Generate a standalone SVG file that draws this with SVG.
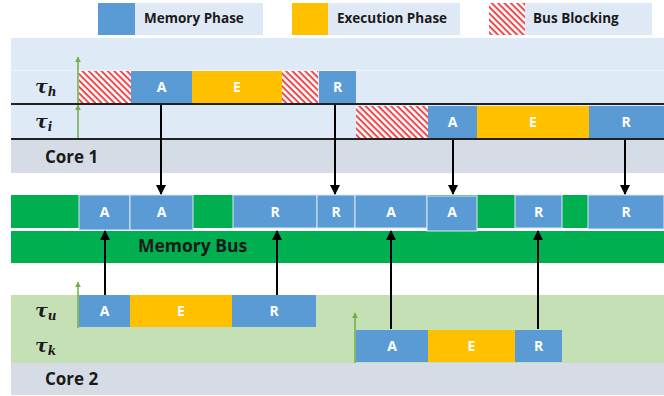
<svg xmlns="http://www.w3.org/2000/svg" width="664" height="396" viewBox="0 0 664 396">
<defs>
<pattern id="hatch" patternUnits="userSpaceOnUse" width="4.5" height="4.5" patternTransform="rotate(45)">
<rect width="4.5" height="4.5" fill="#ffffff"/>
<rect width="4.5" height="2" fill="#f0474a"/>
</pattern>
<marker id="ah" viewBox="0 0 10 10" refX="9" refY="5" markerWidth="5" markerHeight="5" orient="auto">
<path d="M0,0 L10,5 L0,10 z" fill="#000"/>
</marker>
<marker id="gh" viewBox="0 0 10 10" refX="9" refY="5" markerWidth="4" markerHeight="4" orient="auto">
<path d="M0,0 L10,5 L0,10 z" fill="#70ad47"/>
</marker>
</defs>
<style>
.mem{fill:#5b9bd5}
.exe{fill:#ffc000}
.blk{fill:url(#hatch)}
.bus{fill:#5b9bd5;stroke:#dce6f2;stroke-width:1}
.lt{font-family:"Open Sans","Liberation Sans",sans-serif;font-weight:700;fill:#1a1a1a}
.bl{font-family:"Open Sans","Liberation Sans",sans-serif;font-weight:700;font-size:14px;fill:#ffffff;text-anchor:middle}
.tau{font-family:"DejaVu Serif","Liberation Serif",serif;font-weight:bold;font-style:italic;font-size:19px;fill:#1a1a1a}
.sep{stroke:#222;stroke-width:2}
.con{stroke:#000;stroke-width:2;fill:none;marker-end:url(#ah)}
.rel{stroke:#70ad47;stroke-width:1.5;fill:none;marker-end:url(#gh)}
</style>
<rect width="664" height="396" fill="#ffffff"/>

<g id="legend">
<rect x="98" y="3" width="165" height="32" fill="#dfe9f5"/>
<rect x="98" y="3" width="37" height="32" class="mem"/>
<text x="144" y="23" class="lt" font-size="13.5">Memory Phase</text>
<rect x="292" y="3" width="168" height="32" fill="#dfe9f5"/>
<rect x="292" y="3" width="36" height="32" class="exe"/>
<text x="337" y="23" class="lt" font-size="13.5">Execution Phase</text>
<rect x="489" y="3" width="163" height="32" fill="#dfe9f5"/>
<rect x="489" y="3" width="36" height="32" class="blk"/>
<text x="533" y="23" class="lt" font-size="13.5">Bus Blocking</text>
</g>

<g id="core1">
<rect x="11" y="38" width="653" height="101" fill="#deebf7"/>
<line x1="11" y1="70.5" x2="664" y2="70.5" stroke="#edf3fa" stroke-width="1"/>
<rect x="11" y="139" width="653" height="34" fill="#d6dce5"/>
<text x="45" y="163" class="lt" font-size="17">Core 1</text>
</g>

<g id="task-h">
<text x="35" y="93" class="tau">τ<tspan font-size="12" dy="3">h</tspan></text>
<rect x="79" y="71" width="52" height="32" class="blk"/>
<rect x="131" y="71" width="61" height="32" class="mem"/>
<text x="161.5" y="92" class="bl">A</text>
<rect x="192" y="71" width="90" height="32" class="exe"/>
<text x="237" y="92" class="bl">E</text>
<rect x="282" y="71" width="36" height="32" class="blk"/>
<rect x="319" y="71" width="37" height="32" class="mem"/>
<text x="337.5" y="92" class="bl">R</text>
<line x1="78" y1="103" x2="78" y2="57" class="rel"/>
</g>

<g id="task-i">
<text x="35" y="128" class="tau">τ<tspan font-size="12" dy="3">i</tspan></text>
<rect x="356" y="106" width="72" height="32" class="blk"/>
<rect x="428" y="106" width="49" height="32" class="mem"/>
<text x="452.5" y="127" class="bl">A</text>
<rect x="477" y="106" width="112" height="32" class="exe"/>
<text x="533" y="127" class="bl">E</text>
<rect x="589" y="106" width="75" height="32" class="mem"/>
<text x="626" y="127" class="bl">R</text>
<line x1="78" y1="138" x2="78" y2="105" class="rel"/>
</g>

<g id="separators">
<line x1="11" y1="104" x2="664" y2="104" class="sep"/>
<line x1="11" y1="139" x2="664" y2="139" class="sep"/>
<line x1="11" y1="328.5" x2="664" y2="328.5" class="sep"/>
<line x1="11" y1="363" x2="664" y2="363" class="sep"/>
</g>

<g id="memory-bus">
<rect x="11" y="195" width="653" height="33" fill="#00b050"/>
<rect x="11" y="231" width="653" height="32" fill="#00b050"/>
<rect x="79" y="195" width="51" height="35" class="bus"/>
<text x="104.5" y="217" class="bl">A</text>
<rect x="130" y="195" width="63" height="35" class="bus"/>
<text x="161.5" y="217" class="bl">A</text>
<rect x="233" y="195" width="84" height="33" class="bus"/>
<text x="275" y="217" class="bl">R</text>
<rect x="317" y="195" width="38" height="33" class="bus"/>
<text x="336" y="217" class="bl">R</text>
<rect x="355" y="195" width="72" height="33" class="bus"/>
<text x="391" y="217" class="bl">A</text>
<rect x="427" y="196" width="50" height="35" class="bus"/>
<text x="452" y="217" class="bl">A</text>
<rect x="515" y="195" width="47" height="33" class="bus"/>
<text x="538.5" y="217" class="bl">R</text>
<rect x="588" y="195" width="76" height="34" class="bus"/>
<text x="626" y="217" class="bl">R</text>
<text x="138" y="252" class="lt" font-size="17.5">Memory Bus</text>
</g>

<g id="core2">
<rect x="11" y="295" width="653" height="68" fill="#c5e0b4"/>
<rect x="11" y="363" width="653" height="32" fill="#d6dce5"/>
<text x="45" y="385" class="lt" font-size="17">Core 2</text>
</g>

<g id="task-u">
<text x="35" y="317" class="tau">τ<tspan font-size="12" dy="3">u</tspan></text>
<rect x="79" y="295" width="51" height="32" class="mem"/>
<text x="104.5" y="316" class="bl">A</text>
<rect x="130" y="295" width="102" height="32" class="exe"/>
<text x="181" y="316" class="bl">E</text>
<rect x="232" y="295" width="84" height="32" class="mem"/>
<text x="274" y="316" class="bl">R</text>
<line x1="78" y1="328" x2="78" y2="282" class="rel"/>
</g>

<g id="task-k">
<text x="35" y="352" class="tau">τ<tspan font-size="12" dy="3">k</tspan></text>
<rect x="356" y="330" width="72" height="32" class="mem"/>
<text x="392" y="351" class="bl">A</text>
<rect x="428" y="330" width="87" height="32" class="exe"/>
<text x="471.5" y="351" class="bl">E</text>
<rect x="515" y="330" width="47" height="32" class="mem"/>
<text x="538.5" y="351" class="bl">R</text>
<line x1="355" y1="363" x2="355" y2="313" class="rel"/>
</g>

<g id="connectors">
<line x1="161" y1="105" x2="161" y2="194" class="con"/>
<line x1="335" y1="105" x2="335" y2="194" class="con"/>
<line x1="453" y1="140" x2="453" y2="194" class="con"/>
<line x1="625" y1="140" x2="625" y2="194" class="con"/>
<line x1="105" y1="295" x2="105" y2="231" class="con"/>
<line x1="277" y1="295" x2="277" y2="231" class="con"/>
<line x1="391" y1="329" x2="391" y2="231" class="con"/>
<line x1="538" y1="329" x2="538" y2="231" class="con"/>
</g>
</svg>
